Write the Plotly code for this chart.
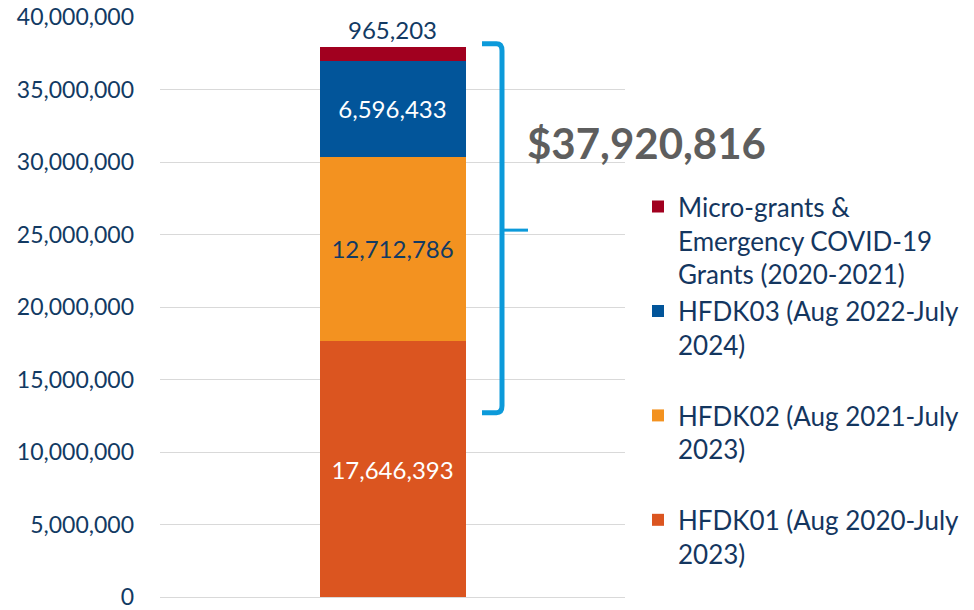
import plotly.graph_objects as go

categories = ["Funding"]
series_names = [
    "HFDK01 (Aug 2020-July<br>2023)",
    "HFDK02 (Aug 2021-July<br>2023)",
    "HFDK03 (Aug 2022-July<br>2024)",
    "Micro-grants &<br>Emergency COVID-19<br>Grants (2020-2021)",
]
series_values = [17646393, 12712786, 6596433, 965203]
series_colors = ["#DB5520", "#F39220", "#02559A", "#A1001F"]
label_colors = ["#FFFFFF", "#123A63", "#FFFFFF", "#123A63"]
total_label = 37920816
tick_values = [0, 5e6, 10e6, 15e6, 20e6, 25e6, 30e6, 35e6, 40e6]
tick_labels = ["0", "5,000,000", "10,000,000", "15,000,000", "20,000,000",
               "25,000,000", "30,000,000", "35,000,000", "40,000,000"]
total = sum(series_values)

# body margin is removed in the page (see post_script), so the figure fills the window
W, H = 974, 610
L, R, T, B = 160, 625, 16.5, 597.5
FONT = "Lato"
NAVY = "#123A63"


def px(x):
    """page pixel x -> paper x"""
    return (x - L) / (R - L)


def pyp(y):
    """page pixel y -> paper y"""
    return (B - y) / (B - T)


def py(v):
    return v / 40e6


fig = go.Figure()
for i, (name, val, col, lc) in enumerate(zip(series_names, series_values, series_colors, label_colors)):
    lab = name if i == 3 else name + "<br> "
    fig.add_trace(go.Bar(
        x=categories, y=[val], name=lab,
        marker=dict(color=col, line=dict(width=0)),
        width=0.314,
        text=[f"{val:,}"],
        textposition="outside" if i == 3 else "inside",
        insidetextanchor="middle",
        textangle=0,
        constraintext="none",
        textfont=dict(family=FONT, size=24, color=lc),
        cliponaxis=False,
    ))

# brace decoration
ytop = py(total) + 0.006
ybot = pyp(413)
ymid = pyp(230)
xv = px(502)
xl = px(482)
xr = px(528)
c = 0.012
cx = 0.012
path = (f"M {xl},{ytop} L {xv - cx},{ytop} Q {xv},{ytop} {xv},{ytop - c} "
        f"L {xv},{ybot + c} Q {xv},{ybot} {xv - cx},{ybot} L {xl},{ybot}")
fig.add_shape(type="path", path=path, xref="paper", yref="paper",
              line=dict(color="#0C9ADA", width=5))
fig.add_shape(type="path",
              path=f"M {xv},{ymid} L {xr},{ymid}",
              xref="paper", yref="paper",
              line=dict(color="#0C9ADA", width=3))

fig.add_annotation(text=f"${total_label:,}", xref="paper", yref="paper",
                   x=px(525), y=pyp(143), xanchor="left", yanchor="middle",
                   showarrow=False,
                   font=dict(family=FONT, size=42, color="#5E5E5E", weight="bold"))

fig.update_layout(
    width=W, height=H,
    margin=dict(l=L, r=W - R, t=T, b=H - B, pad=0, autoexpand=False),
    barmode="stack",
    plot_bgcolor="white", paper_bgcolor="white",
    showlegend=True,
    legend=dict(
        x=px(638), xanchor="left",
        y=pyp(183), yanchor="top",
        traceorder="reversed", valign="top",
        font=dict(family=FONT, size=26, color="#14365F"),
        bgcolor="rgba(0,0,0,0)", itemclick=False,
        tracegroupgap=0, maxheight=560,
    ),
    xaxis=dict(showticklabels=False, showgrid=False, zeroline=False,
               showline=False, ticks=""),
    yaxis=dict(range=[0, 40e6], tickvals=tick_values, ticktext=tick_labels,
               showgrid=True, gridcolor="#D9D9D9", gridwidth=1,
               zeroline=True, zerolinecolor="#D9D9D9", zerolinewidth=1,
               showline=False, ticks="", ticklabelstandoff=25, automargin=False,
               ticklabeloverflow="allow",
               tickfont=dict(family=FONT, size=23, color=NAVY)),
    font=dict(family=FONT),
    uniformtext=dict(mode=False),
)

fig.write_html("out.html", config={"displayModeBar": False},
               post_script="document.body.style.margin='0px';document.body.style.overflow='hidden';")
